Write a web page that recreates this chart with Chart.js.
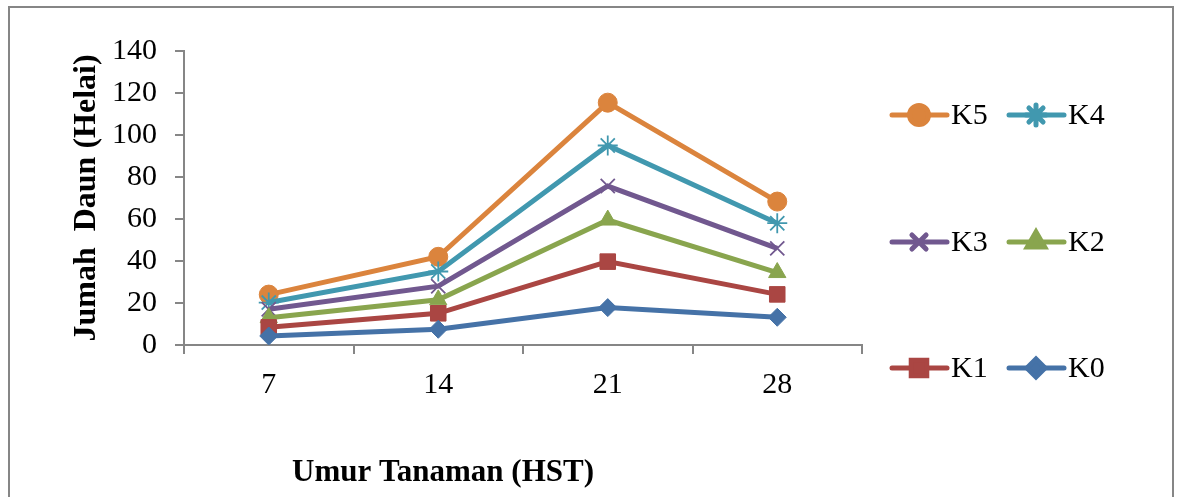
<!DOCTYPE html>
<html>
<head>
<meta charset="utf-8">
<script src="https://cdn.jsdelivr.net/npm/chart.js@4/dist/chart.umd.min.js"></script>
<style>
    html, body { margin: 0; padding: 0; background: #fff; }
    #wrap { position: relative; width: 1177px; height: 497px; }
</style>
</head>
<body>
<div id="wrap"><canvas id="chart" width="1177" height="497"></canvas></div>
<script>
(function () {
    "use strict";

    // Data
    const umur = ["7", "14", "21", "28"];
    const k0 = [4.3, 7.5, 17.8, 13.2];
    const k1 = [8.4, 15.1, 39.7, 24.1];
    const k2 = [13, 21.5, 59.5, 34.5];
    const k3 = [17, 28, 75.7, 46];
    const k4 = [20.2, 35, 95, 58];
    const k5 = [24, 42, 115.4, 68.3];
    const yTicks = [0, 20, 40, 60, 80, 100, 120, 140];

    const serif = "'Liberation Serif', 'Times New Roman', serif";
    const axisGray = "#868686";

    function series(label, data, color, style, radius) {
        return {
            label: label,
            data: data,
            borderColor: color,
            backgroundColor: color,
            borderWidth: 5,
            pointStyle: style,
            pointRadius: radius,
            pointHoverRadius: radius,
            pointBorderColor: color,
            pointBackgroundColor: color,
            pointBorderWidth: style === "crossRot" || style === "star" ? 1.8 : 1,
            tension: 0,
        };
    }

    // Outer frame + x title + legend grid
    const decor = {
        id: "decor",
        beforeDraw(chart) {
            const ctx = chart.ctx;
            ctx.save();
            ctx.strokeStyle = axisGray;
            ctx.lineWidth = 2;
            ctx.strokeRect(9, 7, 1164, 500);
            ctx.restore();
        },
        afterDraw(chart) {
            const ctx = chart.ctx;
            ctx.save();
            ctx.fillStyle = "#000";
            ctx.font = "bold 31px " + serif;
            ctx.textAlign = "center";
            ctx.textBaseline = "middle";
            ctx.fillText("Umur Tanaman (HST)", 443, 473);

            // legend: K5 K4 / K3 K2 / K1 K0
            const order = [5, 4, 3, 2, 1, 0];
            const cols = [892, 1009];
            const rows = [115, 242, 368];
            order.forEach(function (di, i) {
                const ds = chart.data.datasets[di];
                const x = cols[i % 2];
                const y = rows[Math.floor(i / 2)];
                ctx.strokeStyle = ds.borderColor;
                ctx.lineWidth = 5;
                ctx.lineCap = "round";
                ctx.beginPath();
                ctx.moveTo(x, y);
                ctx.lineTo(x + 55, y);
                ctx.stroke();
                ctx.fillStyle = ds.backgroundColor;
                Chart.helpers.drawPoint(ctx, {
                    pointStyle: ds.pointStyle,
                    rotation: 0,
                    radius: ds.pointRadius,
                    borderWidth: ds.pointBorderWidth,
                }, x + 27, y);
                ctx.fillStyle = "#000";
                ctx.font = "30px " + serif;
                ctx.textAlign = "left";
                ctx.fillText(ds.label, x + 59, y + 1);
            });
            ctx.restore();
        },
    };

    const ctx = document.getElementById("chart").getContext("2d");

    new Chart(ctx, {
        type: "line",
        data: {
            labels: umur,
            datasets: [
                series("K0", k0, "#4572A7", "rectRot", 9),
                series("K1", k1, "#AA4643", "rect", 11),
                series("K2", k2, "#89A54E", "triangle", 10),
                series("K3", k3, "#71588F", "crossRot", 10),
                series("K4", k4, "#4198AF", "star", 10),
                series("K5", k5, "#DB843D", "circle", 9.5),
            ],
        },
        options: {
            responsive: false,
            animation: false,
            layout: {
                padding: { left: 0, top: 51, right: 315, bottom: 0 },
            },
            plugins: {
                legend: { display: false },
                tooltip: { enabled: false },
            },
            scales: {
                x: {
                    offset: true,
                    grid: {
                        offset: true,
                        drawOnChartArea: false,
                        tickLength: 9,
                        color: axisGray,
                        lineWidth: 2,
                    },
                    border: { color: axisGray, width: 2 },
                    ticks: {
                        color: "#000",
                        padding: 13,
                        maxRotation: 0,
                        font: { family: serif, size: 30 },
                    },
                    afterFit(scale) {
                        scale.height = 152;
                    },
                },
                y: {
                    min: 0,
                    max: 140,
                    afterBuildTicks(scale) {
                        scale.ticks = yTicks.map(function (v) { return { value: v }; });
                    },
                    grid: {
                        drawOnChartArea: false,
                        tickLength: 9,
                        color: axisGray,
                        lineWidth: 2,
                    },
                    border: { color: axisGray, width: 2 },
                    ticks: {
                        color: "#000",
                        padding: 18,
                        font: { family: serif, size: 30 },
                    },
                    title: {
                        display: true,
                        text: "Jumah  Daun (Helai)",
                        color: "#000",
                        padding: { top: 68, bottom: 0 },
                        font: { family: serif, size: 32, weight: "bold" },
                    },
                    afterFit(scale) {
                        scale.width = 184;
                    },
                },
            },
        },
        plugins: [decor],
    });
})();
</script>
</body>
</html>
